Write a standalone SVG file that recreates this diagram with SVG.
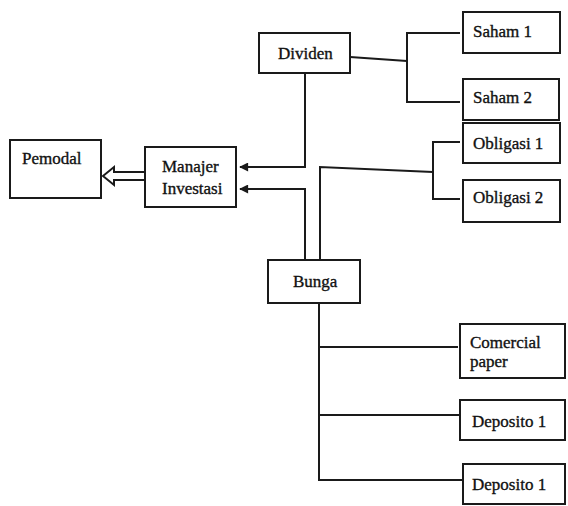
<svg xmlns="http://www.w3.org/2000/svg" width="568" height="506" viewBox="0 0 568 506">
<style>
.box{fill:#fff;stroke:#1a1a1a;stroke-width:2}
.t{font-family:"Liberation Serif","Times New Roman",serif;font-size:17px;fill:#111;stroke:#111;stroke-width:0.35}
.ln{fill:none;stroke:#1a1a1a;stroke-width:2}
</style>
<defs>
<marker id="ah" viewBox="0 0 10 10" refX="9" refY="5" markerWidth="5" markerHeight="4.5" orient="auto" markerUnits="strokeWidth">
<path d="M0,0 L10,5 L0,10 z" fill="#1a1a1a"/>
</marker>
</defs>
<rect width="568" height="506" fill="#fff"/>
<g id="connectors">
<path class="ln" d="M144,172 H114 V167 L103,176 L114,185 V180 H144" fill="#fff"/>
<path class="ln" d="M305,73 V167 H240" marker-end="url(#ah)"/>
<path class="ln" d="M305,260 V189 H240" marker-end="url(#ah)"/>
<path class="ln" d="M350,57 L407,61"/>
<path class="ln" d="M460,33 H407 V102 H460"/>
<path class="ln" d="M320,260 V167 L433,172"/>
<path class="ln" d="M460,142 H433 V199 H460"/>
<path class="ln" d="M319,303 V480 H462"/>
<path class="ln" d="M319,347 H458"/>
<path class="ln" d="M319,415 H460"/>
</g>
<g id="pemodal"><rect class="box" x="10" y="140" width="91" height="58"/><text class="t" x="22" y="164">Pemodal</text></g>
<g id="manajer"><rect class="box" x="145" y="147" width="91" height="60"/><text class="t" x="162" y="172">Manajer</text><text class="t" x="162" y="194">Investasi</text></g>
<g id="dividen"><rect class="box" x="259" y="33" width="91" height="40"/><text class="t" x="278" y="59">Dividen</text></g>
<g id="saham1"><rect class="box" x="463" y="12" width="97" height="41"/><text class="t" x="473" y="37">Saham 1</text></g>
<g id="saham2"><rect class="box" x="463" y="79" width="96" height="41"/><text class="t" x="473" y="103">Saham 2</text></g>
<g id="obligasi1"><rect class="box" x="463" y="123" width="97" height="40"/><text class="t" x="473" y="149">Obligasi 1</text></g>
<g id="obligasi2"><rect class="box" x="463" y="180" width="97" height="42"/><text class="t" x="473" y="203">Obligasi 2</text></g>
<g id="bunga"><rect class="box" x="268" y="260" width="92" height="43"/><text class="t" x="293" y="287">Bunga</text></g>
<g id="comercial"><rect class="box" x="460" y="324" width="105" height="54"/><text class="t" x="470" y="348">Comercial</text><text class="t" x="470" y="367">paper</text></g>
<g id="deposito1a"><rect class="box" x="460" y="400" width="105" height="40"/><text class="t" x="472" y="427">Deposito 1</text></g>
<g id="deposito1b"><rect class="box" x="463" y="464" width="102" height="40"/><text class="t" x="472" y="490">Deposito 1</text></g>
</svg>
